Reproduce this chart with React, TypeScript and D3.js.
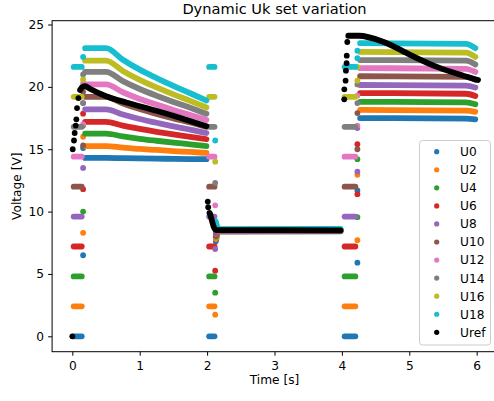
import React, { useEffect, useRef } from "react";
import * as d3 from "d3";

const seriesNames = ["U0", "U2", "U4", "U6", "U8", "U10", "U12", "U14", "U16", "U18"];
const seriesColors = ["#1f77b4", "#ff7f0e", "#2ca02c", "#d62728", "#9467bd", "#8c564b", "#e377c2", "#7f7f7f", "#bcbd22", "#17becf"];
const refName = "Uref";

const xTicks = [0, 1, 2, 3, 4, 5, 6];
const yTicks = [0, 5, 10, 15, 20, 25];

// preset value, held three times
const presetLevels = [0, 2.4, 4.8, 7.2, 9.6, 12.0, 14.4, 16.8, 19.2, 21.6];
const presetSpans = [[0.02, 0.14], [2.03, 2.11], [4.04, 4.2]];

// first set: flat then sagging
const sagTimes = [0.19, 0.5, 0.75, 1.0, 1.25, 1.5, 1.75, 1.99];
const sagLevels = [
  [14.3, 14.3, 14.28, 14.26, 14.24, 14.23, 14.21, 14.2],
  [15.25, 15.25, 15.13, 15.02, 14.94, 14.85, 14.78, 14.7],
  [16.25, 16.25, 16.03, 15.84, 15.68, 15.53, 15.39, 15.25],
  [17.2, 17.2, 16.89, 16.63, 16.4, 16.19, 16.0, 15.8],
  [18.2, 18.2, 17.78, 17.42, 17.12, 16.83, 16.57, 16.3],
  [19.2, 19.2, 18.67, 18.22, 17.83, 17.47, 17.14, 16.8],
  [20.2, 20.2, 19.57, 19.03, 18.58, 18.15, 17.75, 17.35],
  [21.2, 21.2, 20.46, 19.83, 19.29, 18.79, 18.32, 17.85],
  [22.1, 22.1, 21.28, 20.56, 19.96, 19.4, 18.88, 18.35],
  [23.1, 23.1, 22.18, 21.38, 20.71, 20.08, 19.49, 18.9],
];

// second set: all settle near 8.5
const settleTimes = [2.13, 2.17, 3.98];
const settleLevels = [
  [7.6, 8.4, 8.42],
  [7.8, 8.42, 8.44],
  [8.0, 8.43, 8.45],
  [8.1, 8.44, 8.46],
  [8.2, 8.45, 8.47],
  [8.35, 8.47, 8.49],
  [8.5, 8.5, 8.52],
  [8.7, 8.53, 8.55],
  [8.95, 8.56, 8.58],
  [9.2, 8.6, 8.62],
];

// third set: nearly flat
const holdTimes = [4.27, 5.84, 5.98];
const holdLevels = [
  [17.5, 17.45, 17.4],
  [18.15, 18.1, 18.0],
  [18.8, 18.75, 18.6],
  [19.5, 19.45, 19.27],
  [20.15, 20.1, 19.95],
  [20.85, 20.8, 20.55],
  [21.5, 21.45, 21.2],
  [22.15, 22.1, 21.8],
  [22.8, 22.75, 22.4],
  [23.5, 23.45, 23.1],
];

// stray samples during each step
const jumpTimes = [0.16, 2.12, 4.23];
const jumpLevels1 = [[6.5, 15.1], [8.3, 16.0], [10.0, 16.9], [11.8, 17.85], [13.5, 18.7], [15.3, 19.6], [17.0, 20.3], [18.7, 21.0], [20.6], [22.4]];
const jumpLevels2 = [[], [1.73], [3.5], [5.26], [7.0], [8.8], [10.5], [12.3], [14.0], [15.7]];
const jumpLevels3 = [[5.9, 11.7], [7.7, 12.95], [9.55, 14.2], [11.4, 15.4], [13.2, 16.7], [15.0, 17.9], [16.9, 19.3], [18.7, 20.2], [20.5, 21.6], [22.3, 22.9]];

// reference
const refDots = [
  [0, 0], [0.006, 15.0], [0.025, 15.7], [0.035, 16.3], [0.05, 16.9], [0.06, 17.4], [0.07, 18.3], [0.09, 19.1],
  [2.01, 10.8], [2.016, 10.35], [2.035, 9.9],
  [4.035, 19.0], [4.036, 19.8], [4.055, 20.5], [4.06, 21.3], [4.07, 21.9], [4.072, 22.5], [4.08, 23.6],
];
const refRuns = [
  [[0.115, 19.75], [0.15, 20.0], [0.19, 20.05], [0.26, 19.85], [0.5, 19.25], [0.8, 18.75], [1.0, 18.45], [1.3, 18.0], [1.7, 17.35], [1.99, 16.85]],
  [[2.045, 9.8], [2.07, 9.3], [2.1, 8.75], [2.13, 8.52], [3.98, 8.5]],
  [[4.095, 24.1], [4.25, 24.1], [4.62, 23.6], [5.02, 22.55], [5.41, 21.6], [5.8, 20.9], [6.02, 20.55]],
];

const App = () => {
  const ref = useRef<SVGSVGElement>(null);

  useEffect(() => {
    const svg = d3.select(ref.current);
    svg.selectAll("*").remove();
    const font = "DejaVu Sans";
    const left = 52.1, right = 496.9, top = 20.7, bottom = 351.7;

    const x = d3.scaleLinear().domain([-0.3, 6.3]).range([left, right]);
    const y = d3.scaleLinear().domain([-1.235, 25.306]).range([bottom, top]);

    const line = d3.line<number[]>()
      .x(d => x(d[0]))
      .y(d => y(d[1]))
      .curve(d3.curveMonotoneX);

    const plot = svg.append("g");
    const drawRun = (pts: number[][], color: string) => {
      plot.append("path")
        .attr("d", line(pts))
        .attr("fill", "none")
        .attr("stroke", color)
        .attr("stroke-width", 5.8)
        .attr("stroke-linecap", "round")
        .attr("stroke-linejoin", "round");
    };
    const drawDot = (t: number, v: number, color: string) => {
      plot.append("circle")
        .attr("cx", x(t))
        .attr("cy", y(v))
        .attr("r", 2.9)
        .attr("fill", color);
    };

    seriesNames.forEach((_, i) => {
      const c = seriesColors[i];
      presetSpans.forEach(s => drawRun([[s[0], presetLevels[i]], [s[1], presetLevels[i]]], c));
      drawRun(sagTimes.map((t, j) => [t, sagLevels[i][j]]), c);
      drawRun(settleTimes.map((t, j) => [t, settleLevels[i][j]]), c);
      drawRun(holdTimes.map((t, j) => [t, holdLevels[i][j]]), c);
      [jumpLevels1, jumpLevels2, jumpLevels3].forEach((rows, k) => {
        rows[i].forEach(v => drawDot(jumpTimes[k], v, c));
      });
    });
    refRuns.forEach(r => drawRun(r, "#000"));
    refDots.forEach(d => drawDot(d[0], d[1], "#000"));

    // axes
    const xAxis = svg.append("g")
      .attr("transform", `translate(0,${bottom})`)
      .call(d3.axisBottom(x).tickValues(xTicks).tickFormat(d3.format("d")).tickSize(4).tickSizeOuter(0).tickPadding(5.5));
    const yAxis = svg.append("g")
      .attr("transform", `translate(${left},0)`)
      .call(d3.axisLeft(y).tickValues(yTicks).tickFormat(d3.format("d")).tickSize(4).tickSizeOuter(0).tickPadding(4));
    [xAxis, yAxis].forEach(a => {
      a.select(".domain").remove();
      a.selectAll("text").attr("font-family", font).attr("font-size", 12.2).attr("fill", "#000");
      a.selectAll("line").attr("stroke", "#000").attr("stroke-width", 1);
    });

    svg.append("rect")
      .attr("x", left).attr("y", top)
      .attr("width", right - left).attr("height", bottom - top)
      .attr("fill", "none").attr("stroke", "#000").attr("stroke-width", 1);

    svg.append("text")
      .attr("x", (left + right) / 2).attr("y", 13.5)
      .attr("text-anchor", "middle")
      .attr("font-family", font).attr("font-size", 14.6)
      .text("Dynamic Uk set variation");
    svg.append("text")
      .attr("x", (left + right) / 2).attr("y", 384)
      .attr("text-anchor", "middle")
      .attr("font-family", font).attr("font-size", 12.2)
      .text("Time [s]");
    svg.append("text")
      .attr("transform", `translate(20.7,${(top + bottom) / 2}) rotate(-90)`)
      .attr("text-anchor", "middle")
      .attr("font-family", font).attr("font-size", 12.2)
      .text("Voltage [V]");

    // legend
    const names = [...seriesNames, refName];
    const colors = [...seriesColors, "#000"];
    const lg = svg.append("g");
    lg.append("rect")
      .attr("x", 419.5).attr("y", 140.5)
      .attr("width", 71).attr("height", 204.5)
      .attr("rx", 3)
      .attr("fill", "#fff").attr("fill-opacity", 0.8)
      .attr("stroke", "#ccc").attr("stroke-width", 1);
    names.forEach((n, i) => {
      const cy = 151.7 + i * 18.06;
      lg.append("circle").attr("cx", 436.7).attr("cy", cy).attr("r", 2.6).attr("fill", colors[i]);
      lg.append("text")
        .attr("x", 460).attr("y", cy + 4.4)
        .attr("font-family", font).attr("font-size", 12.2)
        .text(n);
    });
  }, []);

  return <svg ref={ref} width={494} height={401} style={{ position: "absolute", left: 0, top: 0 }} />;
};

export default App;
